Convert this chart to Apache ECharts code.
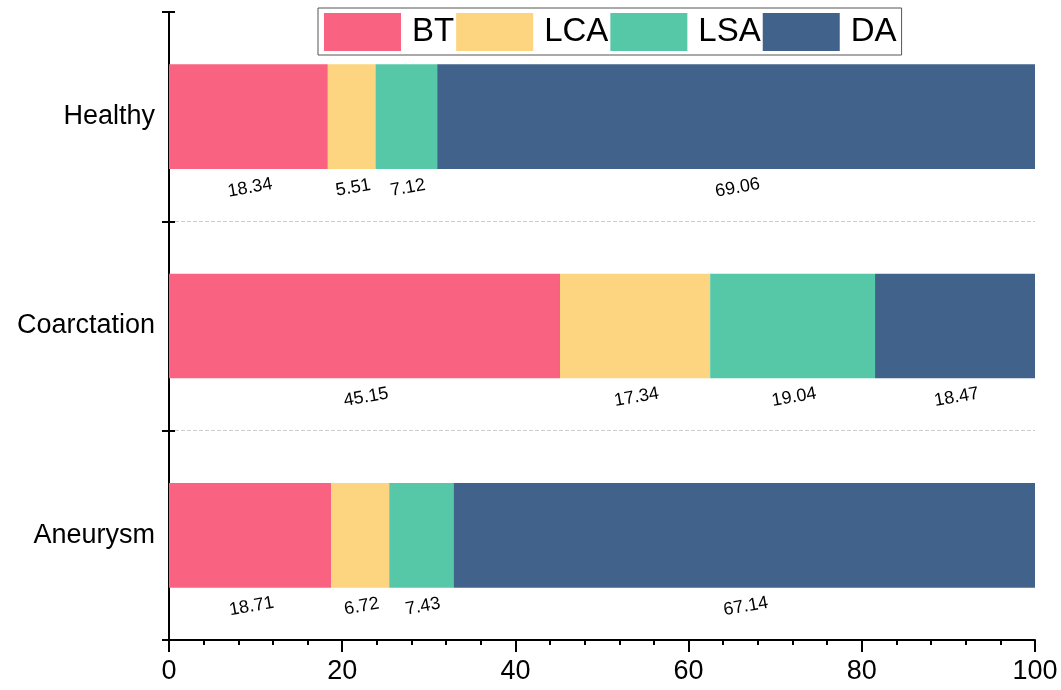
<!DOCTYPE html>
<html>
<head>
<meta charset="utf-8">
<script src="https://cdn.jsdelivr.net/npm/echarts@6/dist/echarts.min.js"></script>
<style>
html,body{margin:0;padding:0;background:#fff;}
#chart{width:1061px;height:690px;}
</style>
</head>
<body>
<div id="chart"></div>
<script>
const categories = ['Aneurysm', 'Coarctation', 'Healthy'];
const seriesNames = ['BT', 'LCA', 'LSA', 'DA'];
const btValues = [18.71, 45.15, 18.34];
const lcaValues = [6.72, 17.34, 5.51];
const lsaValues = [7.43, 19.04, 7.12];
const daValues = [67.14, 18.47, 69.06];
const xTicks = [0, 20, 40, 60, 80, 100];
const colors = ['#F96280', '#FDD47F', '#56C7A7', '#41628B'];

const allValues = [btValues, lcaValues, lsaValues, daValues];
const FONT = 'Liberation Sans, Arial, sans-serif';

const chart = echarts.init(document.getElementById('chart'), null, {renderer: 'canvas'});
const series = seriesNames.map((name, i) => ({
  name: name,
  type: 'bar',
  stack: 'total',
  barWidth: '50%',
  data: allValues[i],
  itemStyle: {color: colors[i]},
  label: {
    show: true,
    position: 'bottom',
    distance: 10,
    rotate: 10,
    color: '#000',
    fontSize: 18,
    fontFamily: FONT,
    formatter: p => p.value.toFixed(2)
  }
}));

chart.setOption({
  animation: false,
  backgroundColor: '#fff',
  color: colors,
  grid: {left: 169, right: 26, top: 12, bottom: 50},
  legend: {
    left: 318,
    top: 8,
    orient: 'horizontal',
    icon: 'rect',
    itemWidth: 77,
    itemHeight: 38,
    itemGap: 2,
    padding: [5, 5, 4, 6],
    borderColor: '#555',
    borderWidth: 1,
    data: seriesNames,
    textStyle: {fontSize: 33, fontFamily: FONT, color: '#000', padding: [0, 0, 0, 6]}
  },
  xAxis: {
    type: 'value',
    min: 0,
    max: 100,
    interval: 20,
    axisLine: {show: true, lineStyle: {color: '#000', width: 2}},
    axisTick: {show: true, length: 12, lineStyle: {color: '#000', width: 2}},
    minorTick: {show: true, splitNumber: 5, length: 5, lineStyle: {color: '#000', width: 2}},
    splitLine: {show: false},
    axisLabel: {
      color: '#000', fontSize: 27, fontFamily: FONT, margin: 18,
      formatter: v => (xTicks.indexOf(v) >= 0 ? String(v) : '')
    }
  },
  yAxis: [{
    type: 'category',
    data: categories,
    axisLine: {show: true, lineStyle: {color: '#000', width: 2}},
    axisTick: {show: true, length: 7, lineStyle: {color: '#000', width: 2}},
    axisLabel: {color: '#000', fontSize: 27, fontFamily: FONT, margin: 14},
    splitLine: {show: true, showMaxLine: false, showMinLine: false, lineStyle: {color: '#ccc', type: 'dashed', width: 1}}
  }, {
    type: 'category',
    data: categories,
    position: 'left',
    axisLine: {show: true, onZero: false, lineStyle: {color: '#000', width: 2}},
    axisTick: {show: true, inside: true, length: 6, lineStyle: {color: '#000', width: 2}},
    axisLabel: {show: false},
    splitLine: {show: false}
  }],
  series: series
});
</script>
</body>
</html>
